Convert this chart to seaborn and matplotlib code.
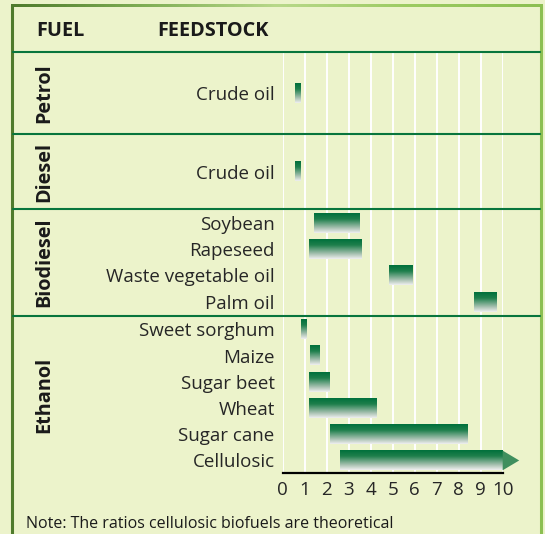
import numpy as np
import pandas as pd
import matplotlib
matplotlib.use("Agg")
import matplotlib.pyplot as plt
import matplotlib.transforms as mtrans
from matplotlib.colors import LinearSegmentedColormap
import seaborn as sns

# data (energy output/input ratio ranges)
fuels = ["Petrol", "Diesel", "Biodiesel", "Ethanol"]
fuel = ["Petrol", "Diesel",
        "Biodiesel", "Biodiesel", "Biodiesel", "Biodiesel",
        "Ethanol", "Ethanol", "Ethanol", "Ethanol", "Ethanol", "Ethanol"]
feedstock = ["Crude oil", "Crude oil",
             "Soybean", "Rapeseed", "Waste vegetable oil", "Palm oil",
             "Sweet sorghum", "Maize", "Sugar beet", "Wheat", "Sugar cane", "Cellulosic"]
ratio_low = [0.57, 0.57, 1.42, 1.2, 4.83, 8.7, 0.83, 1.24, 1.19, 1.19, 2.15, 2.6]
ratio_high = [0.84, 0.84, 3.47, 3.6, 5.88, 9.74, 1.1, 1.65, 2.11, 4.24, 8.42, 10.0]
xticks = list(range(0, 11))
note = "Note: The ratios cellulosic biofuels are theoretical"

# layout: height of each fuel block in row units
group_span = [3.13, 2.87, 4.06, 6.02]
row_pad = 0.53

BG = "#ECF3CB"
DARK = "#08753D"

# row positions
ypos = []
seps = [0.0]
start = 0.0
for g, span in zip(fuels, group_span):
    n = fuel.count(g)
    if n == 1:
        ypos.append(start + span / 2)
    else:
        ypos += [start + row_pad + i for i in range(n)]
    start += span
    seps.append(start)

df = pd.DataFrame({"fuel": fuel, "feedstock": feedstock,
                   "low": ratio_low, "high": ratio_high, "y": ypos})

sns.set_theme(style="white")
plt.rcParams["font.family"] = ["Open Sans", "DejaVu Sans"]
plt.rcParams["text.color"] = "#1a1a1a"

fig = plt.figure(figsize=(5.45, 5.34), dpi=100)
fig.patch.set_facecolor(BG)

# overlay in pixel coords for frame, headers and note
bg = fig.add_axes([0, 0, 1, 1], zorder=0)
bg.set_xlim(0, 545)
bg.set_ylim(534, 0)
bg.axis("off")
bg.plot([12, 12], [5, 534], color="#4F7B2C", lw=2.2, solid_capstyle="butt")
bg.plot([541, 541], [5, 534], color="#8CBF52", lw=2.2, solid_capstyle="butt")
top_cmap = LinearSegmentedColormap.from_list(
    "top", ["#4F7B2C", "#7FAE55", "#B8D88A", "#9CCB62", "#8CBF52"])
bg.imshow(np.linspace(0, 1, 200)[None, :], cmap=top_cmap, aspect="auto",
          extent=(11, 542.5, 7, 4))
bg.set_xlim(0, 545)
bg.set_ylim(534, 0)
bg.text(36.5, 36.5, "FUEL", fontsize=14.3, fontweight="bold", va="baseline")
bg.text(157, 36.5, "FEEDSTOCK", fontsize=14.3, fontweight="bold", va="baseline")
bg.text(26, 527.5, note, fontsize=11.5, va="baseline")

ax = fig.add_axes([282.7 / 545, 1 - 473.3 / 534, 220 / 545, 421.3 / 534], zorder=1)
ax.set_facecolor("none")

sns.barplot(data=df, x="high", y="y", orient="y", native_scale=True,
            width=0.75, errorbar=None, color=DARK, ax=ax)

bar_cmap = LinearSegmentedColormap.from_list(
    "bar", [(0, "#00703C"), (0.3, "#1E7F4C"), (0.75, "#A9C2B2"), (1, "#EFEFEF")])
grad = np.linspace(0, 1, 100)[:, None]
for p in ax.patches:
    yc = p.get_y() + p.get_height() / 2
    i = int(np.argmin(np.abs(df["y"].to_numpy() - yc)))
    x0, x1 = df["low"].iloc[i], df["high"].iloc[i]
    y0, y1 = p.get_y(), p.get_y() + p.get_height()
    p.set_visible(False)
    ax.imshow(grad, cmap=bar_cmap, aspect="auto", extent=(x0, x1, y1, y0),
              zorder=3, interpolation="bilinear")

# arrow past the end of the scale for cellulosic
last = ax.patches[-1]
ya, yb = last.get_y(), last.get_y() + last.get_height()
ax.fill([ratio_high[-1], ratio_high[-1] + 0.75, ratio_high[-1]],
        [ya, (ya + yb) / 2, yb], color="#3F8F5E", lw=0, clip_on=False, zorder=3)

ax.set_xlim(0, 10)
ax.set_ylim(seps[-1], 0)
ax.set_xticks(xticks)
ax.set_xticklabels([str(t) for t in xticks], fontsize=13.5)
ax.set_yticks(df["y"])
ax.set_yticklabels(df["feedstock"], fontsize=13.5)
ax.tick_params(axis="x", length=0, pad=5.5)
ax.tick_params(axis="y", length=0, pad=5.8)
ax.set_xlabel("")
ax.set_ylabel("")
ax.grid(axis="x", color="white", lw=1.4)
ax.grid(axis="y", visible=False)
ax.set_axisbelow(True)
for s in ["left", "top", "right"]:
    ax.spines[s].set_visible(False)
ax.spines["bottom"].set_color("black")
ax.spines["bottom"].set_linewidth(1.6)
ax.spines["bottom"].set_zorder(4)

# block separators and fuel names
tr = mtrans.blended_transform_factory(fig.transFigure, ax.transData)
for s in seps[:-1]:
    ax.plot([13 / 545, 540 / 545], [s, s], color=DARK, lw=1.5,
            transform=tr, clip_on=False, zorder=2.5)
for g, a, b in zip(fuels, seps[:-1], seps[1:]):
    ax.text(44.5 / 545, (a + b) / 2, g, rotation=90, fontsize=14.3,
            fontweight="bold", ha="center", va="center", transform=tr)

fig.savefig("out.png", dpi=100, facecolor=BG)
